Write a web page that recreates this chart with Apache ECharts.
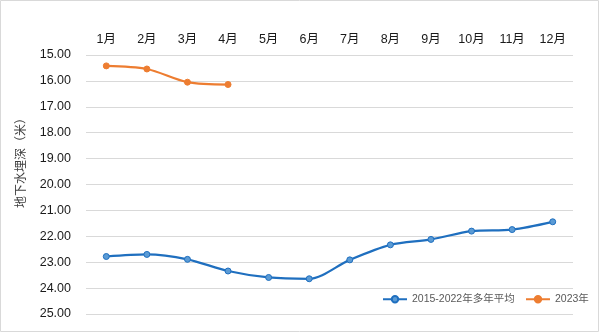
<!DOCTYPE html>
<html>
<head>
<meta charset="utf-8">
<script src="https://cdn.jsdelivr.net/npm/echarts@6/dist/echarts.min.js"></script>
<style>
  html, body { margin: 0; padding: 0; background: #fff; }
  #chart { width: 600px; height: 332px; }
</style>
</head>
<body>
<div id="chart"></div>
<script>
// Monthly groundwater depth (m)
const months = ['1月', '2月', '3月', '4月', '5月', '6月', '7月', '8月', '9月', '10月', '11月', '12月'];
const avg2015to2022 = [22.78, 22.70, 22.89, 23.34, 23.59, 23.64, 22.91, 22.33, 22.12, 21.80, 21.74, 21.44];
const year2023 = [15.42, 15.54, 16.05, 16.14];
const seriesNames = ['2015-2022年多年平均', '2023年'];
const yTitle = '地下水埋深（米）';

const font = '"Liberation Sans", "Noto Sans CJK SC", sans-serif';
const chart = echarts.init(document.getElementById('chart'));

const legendCommon = {
  top: 294,
  padding: 0,
  itemWidth: 24,
  itemHeight: 8,
  itemGap: 4,
  textStyle: { color: '#595959', fontSize: 10.5, fontFamily: font }
};

chart.setOption({
  animation: false,
  textStyle: { fontFamily: font },
  graphic: [
    {
      type: 'rect',
      shape: { x: 0.5, y: 0.5, width: 598, height: 331 },
      style: { fill: 'none', stroke: '#d9d9d9', lineWidth: 1 },
      silent: true
    },
    {
      type: 'text',
      x: 20,
      y: 160,
      rotation: Math.PI / 2,
      style: {
        text: yTitle,
        fill: '#404040',
        font: '12px "Noto Sans CJK SC", sans-serif',
        align: 'center',
        verticalAlign: 'middle'
      },
      silent: true
    }
  ],
  grid: { left: 86, right: 27, top: 55, bottom: 18 },
  legend: [
    Object.assign({ left: 382, data: [seriesNames[0]] }, legendCommon),
    Object.assign({ left: 525, data: [seriesNames[1]] }, legendCommon)
  ],
  xAxis: {
    type: 'category',
    position: 'top',
    data: months,
    boundaryGap: true,
    axisLine: { show: false },
    axisTick: { show: false },
    axisLabel: { color: '#1a1a1a', fontSize: 12.5, margin: 9 }
  },
  yAxis: {
    type: 'value',
    inverse: true,
    min: 15,
    max: 25,
    interval: 1,
    axisLine: { show: false },
    axisTick: { show: false },
    axisLabel: {
      color: '#1a1a1a',
      fontSize: 12.5,
      margin: 15,
      formatter: v => v.toFixed(2)
    },
    splitLine: { lineStyle: { color: '#d9d9d9', width: 1 } }
  },
  series: [
    {
      name: seriesNames[0],
      type: 'line',
      data: avg2015to2022,
      smooth: 0.3,
      symbol: 'circle',
      symbolSize: 6,
      lineStyle: { color: '#1f6fbf', width: 2.25 },
      itemStyle: { color: '#5b9bd5', borderColor: '#1f6fbf', borderWidth: 1 }
    },
    {
      name: seriesNames[1],
      type: 'line',
      data: year2023,
      smooth: 0.3,
      symbol: 'circle',
      symbolSize: 6,
      lineStyle: { color: '#ed7d31', width: 2.25 },
      itemStyle: { color: '#ed7d31', borderColor: '#ed7d31', borderWidth: 1 }
    }
  ]
});
</script>
</body>
</html>
